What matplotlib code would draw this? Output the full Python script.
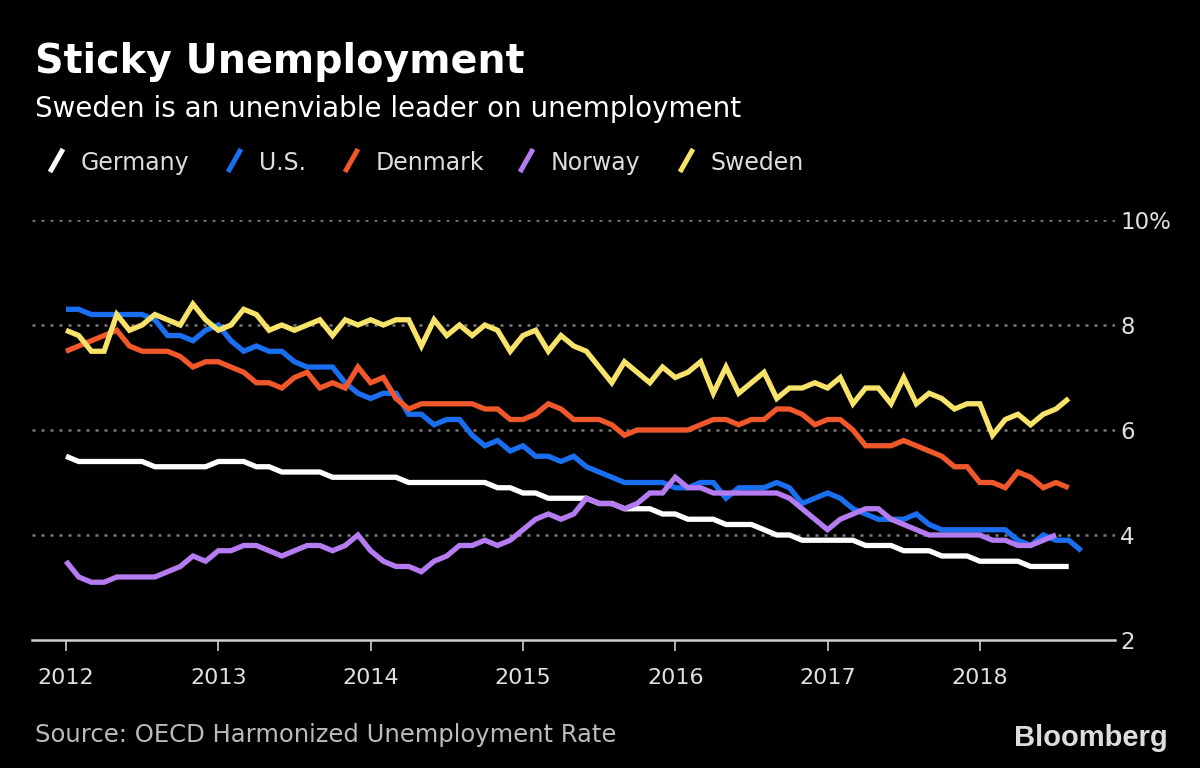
import numpy as np
import matplotlib
matplotlib.use("Agg")
import matplotlib.pyplot as plt
from matplotlib.lines import Line2D

# monthly unemployment rates (%), starting January 2012
germany = [5.5, 5.4, 5.4, 5.4, 5.4, 5.4, 5.4, 5.3, 5.3, 5.3, 5.3, 5.3,
           5.4, 5.4, 5.4, 5.3, 5.3, 5.2, 5.2, 5.2, 5.2, 5.1, 5.1, 5.1,
           5.1, 5.1, 5.1, 5.0, 5.0, 5.0, 5.0, 5.0, 5.0, 5.0, 4.9, 4.9,
           4.8, 4.8, 4.7, 4.7, 4.7, 4.7, 4.6, 4.6, 4.5, 4.5, 4.5, 4.4,
           4.4, 4.3, 4.3, 4.3, 4.2, 4.2, 4.2, 4.1, 4.0, 4.0, 3.9, 3.9,
           3.9, 3.9, 3.9, 3.8, 3.8, 3.8, 3.7, 3.7, 3.7, 3.6, 3.6, 3.6,
           3.5, 3.5, 3.5, 3.5, 3.4, 3.4, 3.4, 3.4]
us = [8.3, 8.3, 8.2, 8.2, 8.2, 8.2, 8.2, 8.1, 7.8, 7.8, 7.7, 7.9,
      8.0, 7.7, 7.5, 7.6, 7.5, 7.5, 7.3, 7.2, 7.2, 7.2, 6.9, 6.7,
      6.6, 6.7, 6.7, 6.3, 6.3, 6.1, 6.2, 6.2, 5.9, 5.7, 5.8, 5.6,
      5.7, 5.5, 5.5, 5.4, 5.5, 5.3, 5.2, 5.1, 5.0, 5.0, 5.0, 5.0,
      4.9, 4.9, 5.0, 5.0, 4.7, 4.9, 4.9, 4.9, 5.0, 4.9, 4.6, 4.7,
      4.8, 4.7, 4.5, 4.4, 4.3, 4.3, 4.3, 4.4, 4.2, 4.1, 4.1, 4.1,
      4.1, 4.1, 4.1, 3.9, 3.8, 4.0, 3.9, 3.9, 3.7]
denmark = [7.5, 7.6, 7.7, 7.8, 7.9, 7.6, 7.5, 7.5, 7.5, 7.4, 7.2, 7.3,
           7.3, 7.2, 7.1, 6.9, 6.9, 6.8, 7.0, 7.1, 6.8, 6.9, 6.8, 7.2,
           6.9, 7.0, 6.6, 6.4, 6.5, 6.5, 6.5, 6.5, 6.5, 6.4, 6.4, 6.2,
           6.2, 6.3, 6.5, 6.4, 6.2, 6.2, 6.2, 6.1, 5.9, 6.0, 6.0, 6.0,
           6.0, 6.0, 6.1, 6.2, 6.2, 6.1, 6.2, 6.2, 6.4, 6.4, 6.3, 6.1,
           6.2, 6.2, 6.0, 5.7, 5.7, 5.7, 5.8, 5.7, 5.6, 5.5, 5.3, 5.3,
           5.0, 5.0, 4.9, 5.2, 5.1, 4.9, 5.0, 4.9]
norway = [3.5, 3.2, 3.1, 3.1, 3.2, 3.2, 3.2, 3.2, 3.3, 3.4, 3.6, 3.5,
          3.7, 3.7, 3.8, 3.8, 3.7, 3.6, 3.7, 3.8, 3.8, 3.7, 3.8, 4.0,
          3.7, 3.5, 3.4, 3.4, 3.3, 3.5, 3.6, 3.8, 3.8, 3.9, 3.8, 3.9,
          4.1, 4.3, 4.4, 4.3, 4.4, 4.7, 4.6, 4.6, 4.5, 4.6, 4.8, 4.8,
          5.1, 4.9, 4.9, 4.8, 4.8, 4.8, 4.8, 4.8, 4.8, 4.7, 4.5, 4.3,
          4.1, 4.3, 4.4, 4.5, 4.5, 4.3, 4.2, 4.1, 4.0, 4.0, 4.0, 4.0,
          4.0, 3.9, 3.9, 3.8, 3.8, 3.9, 4.0]
sweden = [7.9, 7.8, 7.5, 7.5, 8.2, 7.9, 8.0, 8.2, 8.1, 8.0, 8.4, 8.1,
          7.9, 8.0, 8.3, 8.2, 7.9, 8.0, 7.9, 8.0, 8.1, 7.8, 8.1, 8.0,
          8.1, 8.0, 8.1, 8.1, 7.6, 8.1, 7.8, 8.0, 7.8, 8.0, 7.9, 7.5,
          7.8, 7.9, 7.5, 7.8, 7.6, 7.5, 7.2, 6.9, 7.3, 7.1, 6.9, 7.2,
          7.0, 7.1, 7.3, 6.7, 7.2, 6.7, 6.9, 7.1, 6.6, 6.8, 6.8, 6.9,
          6.8, 7.0, 6.5, 6.8, 6.8, 6.5, 7.0, 6.5, 6.7, 6.6, 6.4, 6.5,
          6.5, 5.9, 6.2, 6.3, 6.1, 6.3, 6.4, 6.6]

names = ["Germany", "U.S.", "Denmark", "Norway", "Sweden"]
series = [germany, us, denmark, norway, sweden]
colors = ["#ffffff", "#1a6ff0", "#f0582b", "#b57bf0", "#f8e36a"]

years = [2012, 2013, 2014, 2015, 2016, 2017, 2018]
yticks = [2, 4, 6, 8, 10]
ylabels = ["2", "4", "6", "8", "10%"]

plt.rcParams['font.family'] = ['DejaVu Sans']

fig = plt.figure(figsize=(12, 7.68), dpi=100, facecolor="black")
ax = fig.add_axes([0.0267, 0.1667, 0.9023, 0.5468], facecolor="black")

for vals, c in zip(series, colors):
    x = 2012 + np.arange(len(vals)) / 12
    ax.plot(x, vals, color=c, lw=3.8, solid_joinstyle='miter',
            solid_capstyle='butt')

ax.set_xlim(2011.777, 2018.886)
ax.set_ylim(2, 10)
ax.set_xticks(years)
ax.set_xticklabels([str(y) for y in years])
ax.set_yticks(yticks)
ax.set_yticklabels(ylabels)
ax.yaxis.tick_right()

for v in yticks[1:]:
    ax.axhline(v, color="#7a7a7a", lw=1.8, ls=(0, (1.2, 2.4)), zorder=0)

for s in ["top", "left", "right"]:
    ax.spines[s].set_visible(False)
ax.spines["bottom"].set_color("#cfcfcf")
ax.spines["bottom"].set_linewidth(1.8)

ax.tick_params(axis="x", colors="#cfcfcf", length=8, width=1.2, pad=12,
               labelsize=16, labelcolor="#e0e0e0")
ax.tick_params(axis="y", length=0, pad=4, labelsize=16.5, labelcolor="#e0e0e0")

# titles
fig.text(0.029, 0.905, "Sticky Unemployment", color="white", fontsize=28.5,
         fontweight="bold", va="baseline")
fig.text(0.029, 0.848, "Sweden is an unenviable leader on unemployment",
         color="white", fontsize=20, va="baseline")

# legend with slash markers
leg_x = [50, 228, 345, 520, 680]
for lx, name, c in zip(leg_x, names, colors):
    fig.add_artist(Line2D([lx / 1200, (lx + 13) / 1200],
                          [1 - 172 / 768, 1 - 149 / 768],
                          transform=fig.transFigure, color=c, lw=3.6,
                          solid_capstyle='butt'))
    fig.text((lx + 31) / 1200, 1 - 170 / 768, name, color="#dddddd",
             fontsize=17, va="baseline")

fig.text(0.029, 1 - 742 / 768, "Source: OECD Harmonized Unemployment Rate",
         color="#bbbbbb", fontsize=17.5, va="baseline")
fig.text(1168 / 1200, 1 - 746 / 768, "Bloomberg", color="#dddddd",
         fontsize=21, fontweight="bold", family="Liberation Sans",
         ha="right", va="baseline")

plt.savefig("out.png", dpi=100, facecolor="black")
